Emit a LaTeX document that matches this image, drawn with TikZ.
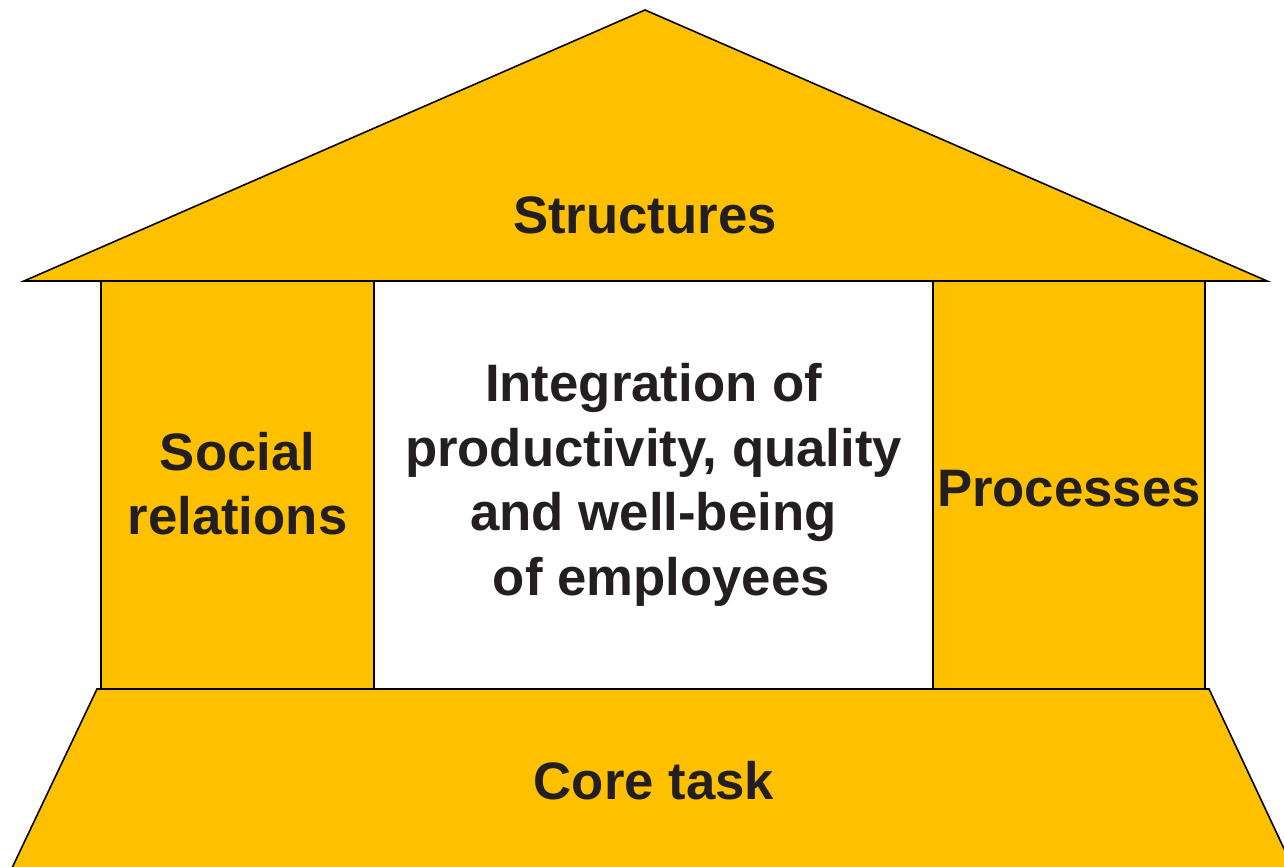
\documentclass[tikz,border=0pt]{standalone}
\usepackage{fontspec}
\setmainfont{Liberation Sans}
\definecolor{amarillo}{HTML}{FFC000}
\definecolor{texto}{HTML}{231F20}
\tikzset{
  bloque/.style={rectangle, draw=black, line width=0.45pt, inner sep=0pt},
  rotulo/.style={text=texto, font=\fontsize{15}{18.4}\selectfont\bfseries, align=center}
}
\begin{document}
\begin{tikzpicture}
\useasboundingbox (0,0) rectangle (12.84,8.67);
\clip (0,0) rectangle (12.84,8.67);
% techo
\draw[fill=amarillo, line width=0.45pt] (0.24,5.86) -- (6.45,8.57) -- (12.67,5.86) -- cycle;
\draw (6.45,6.52) node[rotulo] (techo) {Structures};
% pilares
\draw (2.375,3.82) node[bloque, fill=amarillo, minimum width=2.73cm, minimum height=4.08cm, rotulo, text depth=0.03cm] (social) {Social\\relations};
\draw (6.535,3.82) node[bloque, fill=white, minimum width=5.59cm, minimum height=4.08cm, rotulo] (centro) {Integration of\\productivity, quality\\and well-being\\\hspace*{0.3em}of employees};
\draw (10.69,3.82) node[bloque, fill=amarillo, minimum width=2.72cm, minimum height=4.08cm, rotulo] (procesos) {};
\draw (10.69,3.78) node[rotulo] (procesostxt) {Processes};
% base
\draw[fill=amarillo, line width=0.45pt] (0.97,1.78) -- (12.09,1.78) -- (13.02,-0.2) -- (0.03,-0.2) -- cycle;
\draw (6.54,0.86) node[rotulo] (base) {Core task};
\end{tikzpicture}
\end{document}
